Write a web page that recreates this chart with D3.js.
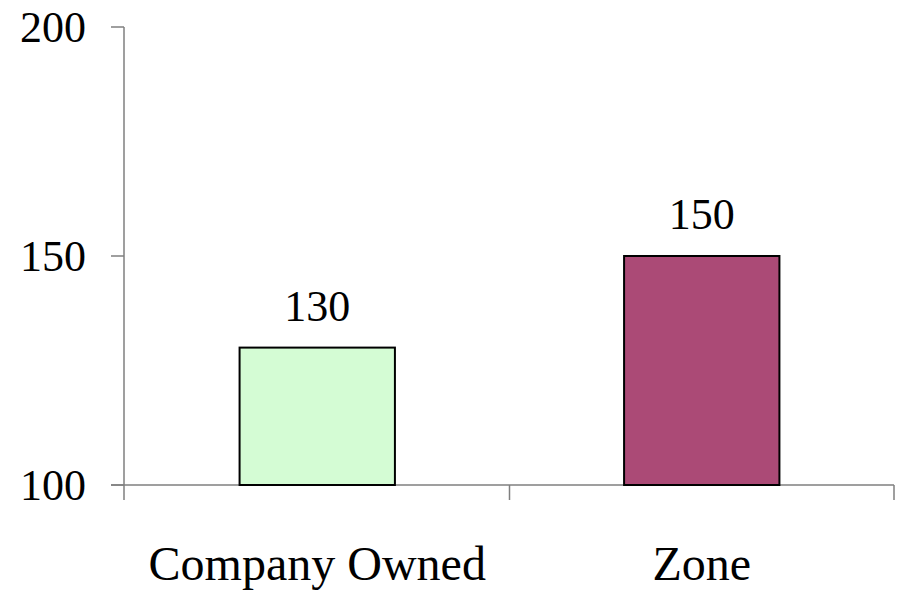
<!DOCTYPE html>
<html><head><meta charset="utf-8">
<script src="https://cdn.jsdelivr.net/npm/d3@7"></script>
<style>body{margin:0;background:#fff}svg{display:block}</style>
</head><body>
<svg id="c" width="909" height="594"></svg>
<script>
const categories = ["Company Owned", "Zone"];
const values = [130, 150];
const colors = ["#D4FCD4", "#AB4A76"];
const yTicks = [100, 150, 200];

const svg = d3.select("#c");
const axisX = 124, x0 = 125, x1 = 894, yTop = 27, yBot = 485;
const x = d3.scaleBand().domain(categories).range([x0, x1]).paddingInner(0).paddingOuter(0);
const y = d3.scaleLinear().domain([100, 200]).range([yBot, yTop]);
const font = "'Liberation Serif','Times New Roman',serif";

// y axis
svg.append("line").attr("x1", axisX).attr("x2", axisX).attr("y1", yTop).attr("y2", yBot + 15)
  .attr("stroke", "#7f7f7f").attr("stroke-width", 1.5);
yTicks.forEach(t => {
  svg.append("line").attr("x1", axisX - 13).attr("x2", axisX).attr("y1", y(t)).attr("y2", y(t))
    .attr("stroke", "#7f7f7f").attr("stroke-width", 1.5);
  svg.append("text").attr("x", 86).attr("y", y(t)).attr("dy", "0.34em")
    .attr("text-anchor", "end").attr("font-family", font).attr("font-size", 44)
    .attr("fill", "#000").text(t);
});

// x axis
svg.append("line").attr("x1", axisX - 13).attr("x2", x1).attr("y1", yBot).attr("y2", yBot)
  .attr("stroke", "#7f7f7f").attr("stroke-width", 1.5);
const bounds = categories.map(c => x(c) + x.bandwidth());
bounds.forEach(b => {
  svg.append("line").attr("x1", b).attr("x2", b).attr("y1", yBot).attr("y2", yBot + 15)
    .attr("stroke", "#7f7f7f").attr("stroke-width", 1.5);
});

// bars
const bw = x.bandwidth() * 0.404;
categories.forEach((c, i) => {
  const cx = x(c) + x.bandwidth() / 2;
  svg.append("rect").attr("x", cx - bw / 2).attr("y", y(values[i]))
    .attr("width", bw).attr("height", yBot - y(values[i]))
    .attr("fill", colors[i]).attr("stroke", "#000").attr("stroke-width", 2);
  svg.append("text").attr("x", cx).attr("y", y(values[i]) - 27)
    .attr("text-anchor", "middle").attr("font-family", font).attr("font-size", 44)
    .attr("fill", "#000").text(values[i]);
  svg.append("text").attr("x", cx).attr("y", 580)
    .attr("text-anchor", "middle").attr("font-family", font).attr("font-size", 48)
    .attr("fill", "#000").text(c);
});
</script>
</body></html>
